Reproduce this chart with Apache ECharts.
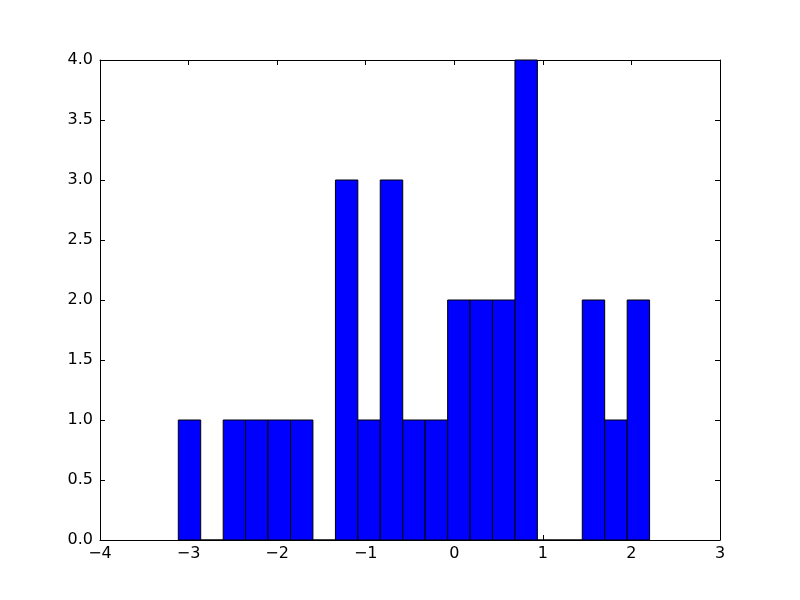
<!DOCTYPE html>
<html>
<head>
<meta charset="utf-8">
<script src="https://cdn.jsdelivr.net/npm/echarts@6/dist/echarts.min.js"></script>
<style>html,body{margin:0;padding:0;background:#fff;}#chart{width:800px;height:600px;}</style>
</head>
<body>
<div id="chart"></div>
<script>
// Histogram bin edges (left edges + final right edge) and counts
const binEdges = [-3.116, -2.863, -2.609, -2.356, -2.103, -1.849, -1.596, -1.342, -1.089, -0.836,
  -0.582, -0.329, -0.075, 0.178, 0.431, 0.685, 0.938, 1.192, 1.445, 1.698, 1.952, 2.205];
const counts = [1, 0, 1, 1, 1, 1, 0, 3, 1, 3, 1, 1, 2, 2, 2, 4, 0, 0, 2, 1, 2];
const xTicks = [-4, -3, -2, -1, 0, 1, 2, 3];
const yTicks = [0, 0.5, 1, 1.5, 2, 2.5, 3, 3.5, 4];

const data = counts.map((c, i) => [binEdges[i], binEdges[i + 1], c]);

const font = 'DejaVu Sans';
const fmtX = v => String(v).replace('-', '\u2212');
const fmtY = v => v.toFixed(1);

const baseAxis = {
  axisLine: { show: true, onZero: false, lineStyle: { color: '#000', width: 1 } },
  axisTick: { show: true, inside: true, length: 5, lineStyle: { color: '#000', width: 1 } },
  splitLine: { show: false },
};

const chart = echarts.init(document.getElementById('chart'));
chart.setOption({
  animation: false,
  backgroundColor: '#fff',
  grid: { left: 100, right: 80, top: 60, bottom: 60, containLabel: false },
  xAxis: [
    Object.assign({}, baseAxis, {
      type: 'value', position: 'bottom', min: xTicks[0], max: xTicks[xTicks.length - 1], interval: 1,
      axisLabel: { color: '#000', fontSize: 16, fontFamily: font, margin: 6, formatter: fmtX }
    }),
    Object.assign({}, baseAxis, {
      type: 'value', position: 'top', min: xTicks[0], max: xTicks[xTicks.length - 1], interval: 1,
      axisLabel: { show: false }
    })
  ],
  yAxis: [
    Object.assign({}, baseAxis, {
      type: 'value', position: 'left', min: yTicks[0], max: yTicks[yTicks.length - 1], interval: 0.5,
      axisLabel: { color: '#000', fontSize: 16, fontFamily: font, margin: 7, formatter: fmtY }
    }),
    Object.assign({}, baseAxis, {
      type: 'value', position: 'right', min: yTicks[0], max: yTicks[yTicks.length - 1], interval: 0.5,
      axisLabel: { show: false }
    })
  ],
  series: [{
    type: 'custom',
    xAxisIndex: 0, yAxisIndex: 0,
    data: data,
    encode: { x: [0, 1], y: 2 },
    renderItem: function (params, api) {
      const x0 = api.value(0), x1 = api.value(1), c = api.value(2);
      const p0 = api.coord([x0, c]);
      const p1 = api.coord([x1, 0]);
      return {
        type: 'rect',
        shape: { x: p0[0], y: p0[1], width: p1[0] - p0[0], height: p1[1] - p0[1] },
        style: { fill: '#0000ff', stroke: '#000', lineWidth: 1 }
      };
    }
  }]
});
</script>
</body>
</html>
